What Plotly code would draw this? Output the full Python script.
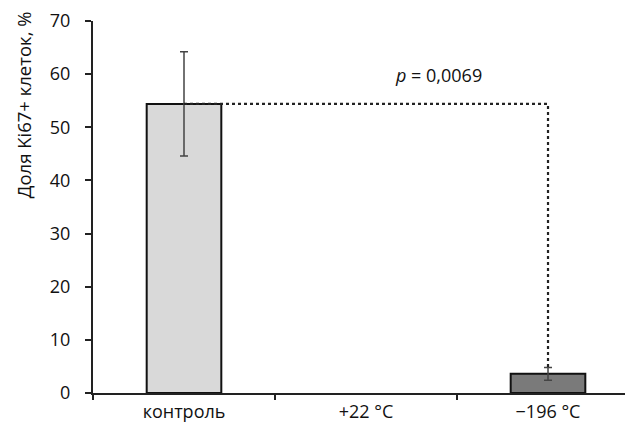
import plotly.graph_objects as go

categories = ["контроль", "+22 °C", "−196 °C"]
values = [54.4, None, 3.6]
errors = [9.8, None, 1.2]
bar_colors = ["#d9d9d9", "#d9d9d9", "#7a7a7a"]
y_ticks = [0, 10, 20, 30, 40, 50, 60, 70]
p_text = "<i>p</i> = 0,0069"
compare_from = 0
compare_to = 2

FONT = "Open Sans"
# the page body adds an 8px offset; size the figure to fill the rest of the window
W, H = 625, 415
ML, MR, MT, MB = 85, 0, 13, 20

fig = go.Figure()
fig.add_trace(go.Bar(
    x=categories, y=values,
    width=0.41,
    marker=dict(color=bar_colors, line=dict(color="#111111", width=2)),
    error_y=dict(type="data", array=errors, visible=True, color="#444444",
                 thickness=1.5, width=4),
    showlegend=False,
))

# dotted comparison bracket: from control top to -196 error top
y_top = values[compare_from]
y_end = values[compare_to] + errors[compare_to]
fig.add_trace(go.Scatter(
    x=[categories[compare_from], categories[compare_to], categories[compare_to]],
    y=[y_top, y_top, y_end],
    mode="lines",
    line=dict(color="#222222", width=2.2, dash="dot"),
    showlegend=False, hoverinfo="skip",
))

fig.add_annotation(x=1.4, y=59.8, xref="x", yref="y", text=p_text,
                   showarrow=False, font=dict(family=FONT, size=18, color="#111111"))

plot_w = W - ML - MR
plot_h = H - MT - MB
fig.add_annotation(x=(15 - ML) / plot_w, xref="paper",
                   y=(H - MB - (107.5 - 8)) / plot_h - 0.0, yref="paper",
                   text="Доля Ki67+ клеток, %", textangle=-90, showarrow=False,
                   xanchor="center", yanchor="middle",
                   font=dict(family=FONT, size=18.5, color="#111111"))
# correct y: paper y measured from bottom of plot area
fig.layout.annotations[1].y = ((H - MB) - (107.5 - 8)) / plot_h

fig.update_layout(
    width=W, height=H,
    margin=dict(l=ML, r=MR, t=MT, b=MB, pad=0),
    plot_bgcolor="white", paper_bgcolor="white",
    font=dict(family=FONT, size=18, color="#111111"),
)

fig.update_xaxes(
    type="category", range=[-0.5, 2.467],
    showline=True, linecolor="#222222", linewidth=2,
    ticks="outside", tickson="boundaries", ticklen=5, tickwidth=1.5, tickcolor="#222222",
    showgrid=False, zeroline=False, ticklabelstandoff=1,
    tickfont=dict(family=FONT, size=18, color="#111111"),
)
fig.update_yaxes(
    range=[0, 70], tickvals=y_ticks,
    showline=True, linecolor="#222222", linewidth=2,
    ticks="outside", ticklen=6, tickwidth=1.5, tickcolor="#222222",
    showgrid=False, zeroline=False, ticklabelstandoff=11,
    tickfont=dict(family=FONT, size=18, color="#111111"),
)

fig.write_html("out.html")
